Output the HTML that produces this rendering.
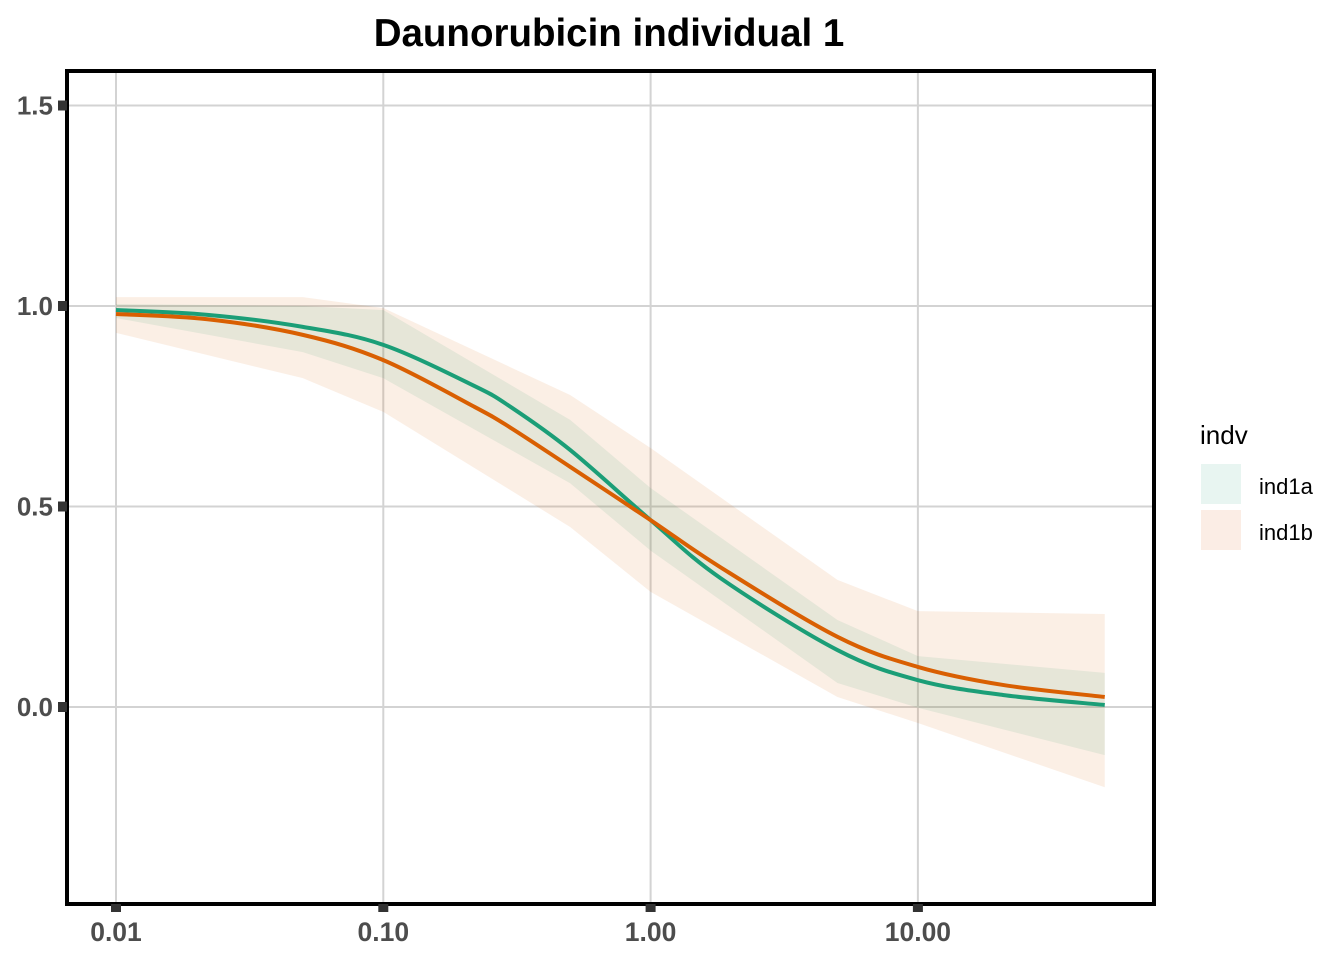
<!DOCTYPE html>
<html><head><meta charset="utf-8"><style>
body{margin:0;background:#fff;}
svg{display:block;font-family:"Liberation Sans",sans-serif;}
</style></head><body>
<svg id="chart" width="1344" height="960">
<text x="609" y="46" text-anchor="middle" font-size="38.5" font-weight="bold" fill="#000">Daunorubicin individual 1</text>
<g id="grid"></g>
<g id="ribbons"></g>
<g id="lines"></g>
<rect x="67" y="71" width="1087" height="833" fill="none" stroke="#000" stroke-width="4"/>
<g id="axes"></g>
<g>
<text x="1200" y="444" font-size="26" fill="#000">indv</text>
<rect x="1201" y="464" width="40" height="40" fill="#E8F5F1"/>
<text x="1259" y="494" font-size="22" fill="#000">ind1a</text>
<rect x="1201" y="510" width="40" height="40" fill="#FBEDE5"/>
<text x="1259" y="540" font-size="22" fill="#000">ind1b</text>
</g>
</svg>
<script>
const xTicks=[0.01,0.1,1,10];
const xTickLabels=["0.01","0.10","1.00","10.00"];
const yTicks=[0,0.5,1,1.5];
const yTickLabels=["0.0","0.5","1.0","1.5"];
const ribbonX=[0.01,0.05,0.1,0.5,1,5,10,50];
const aUpper=[1.005,1.0,0.99,0.716,0.546,0.217,0.127,0.085];
const aLower=[0.97,0.885,0.82,0.558,0.39,0.06,-0.002,-0.12];
const bUpper=[1.022,1.022,0.995,0.778,0.646,0.317,0.239,0.232];
const bLower=[0.933,0.82,0.736,0.449,0.287,0.025,-0.04,-0.2];
const lineX=[0.01,0.022,0.05,0.1,0.22,0.3,0.5,1,1.82,5,10,20.8,50];
const aLine=[0.99,0.978,0.948,0.903,0.8,0.748,0.641,0.466,0.322,0.142,0.067,0.03,0.005];
const bLine=[0.98,0.967,0.928,0.865,0.748,0.696,0.599,0.466,0.349,0.175,0.1,0.055,0.025];

const NS="http://www.w3.org/2000/svg";
function sx(v){return 116+267.3*Math.log10(v/0.01);}
function sy(v){return 707-401*v;}
function mk(tag,attrs,parent){const e=document.createElementNS(NS,tag);for(const k in attrs)e.setAttribute(k,attrs[k]);parent.appendChild(e);return e;}
const grid=document.getElementById('grid'),rib=document.getElementById('ribbons'),ln=document.getElementById('lines'),ax=document.getElementById('axes');
xTicks.forEach((t,i)=>{
  const g=mk('line',{x1:sx(t),x2:sx(t),y1:71,y2:904,stroke:'#D3D3D3','stroke-width':2},grid);
  
  
  const tk=mk('rect',{x:sx(t)-5,y:904,width:10,height:8,fill:'#333'},ax);
  
  
  const tl=mk('text',{x:sx(t),y:941,'text-anchor':'middle','font-size':26.5,'font-weight':'bold',fill:'#4D4D4D'},ax);
  tl.textContent=xTickLabels[i];
  
  
});
yTicks.forEach((t,i)=>{
  const g=mk('line',{x1:67,x2:1154,y1:sy(t),y2:sy(t),stroke:'#D3D3D3','stroke-width':2},grid);
  
  
  const tk=mk('rect',{x:58,y:sy(t)-5,width:9,height:10,fill:'#333'},ax);
  
  
  const tl=mk('text',{x:53,y:sy(t)+9,'text-anchor':'end','font-size':26,'font-weight':'bold',fill:'#4D4D4D'},ax);
  tl.textContent=yTickLabels[i];
  
  
});
function ribbon(up,lo,color,name){
  const pts=ribbonX.map((x,i)=>sx(x)+','+sy(up[i])).concat(ribbonX.map((x,i)=>sx(x)+','+sy(lo[i])).reverse());
  const p=mk('polygon',{points:pts.join(' '),fill:color,'fill-opacity':0.1},rib);
  
  
}
ribbon(aUpper,aLower,'#1B9E77','ribbon-ind1a');
ribbon(bUpper,bLower,'#D95F02','ribbon-ind1b');
function curve(vals,color,name){
  const P=lineX.map((x,i)=>[sx(x),sy(vals[i])]);
  let d='M'+P[0][0]+','+P[0][1];
  for(let i=0;i<P.length-1;i++){
    const p0=P[i-1]||P[i],p1=P[i],p2=P[i+1],p3=P[i+2]||P[i+1];
    const c1=[p1[0]+(p2[0]-p0[0])/6,p1[1]+(p2[1]-p0[1])/6],c2=[p2[0]-(p3[0]-p1[0])/6,p2[1]-(p3[1]-p1[1])/6];
    d+=' C'+c1+' '+c2+' '+p2;
  }
  const p=mk('path',{d:d,fill:'none',stroke:color,'stroke-width':4},ln);
  
  
}
curve(aLine,'#1B9E77','line-ind1a');
curve(bLine,'#D95F02','line-ind1b');
</script>
</body></html>
